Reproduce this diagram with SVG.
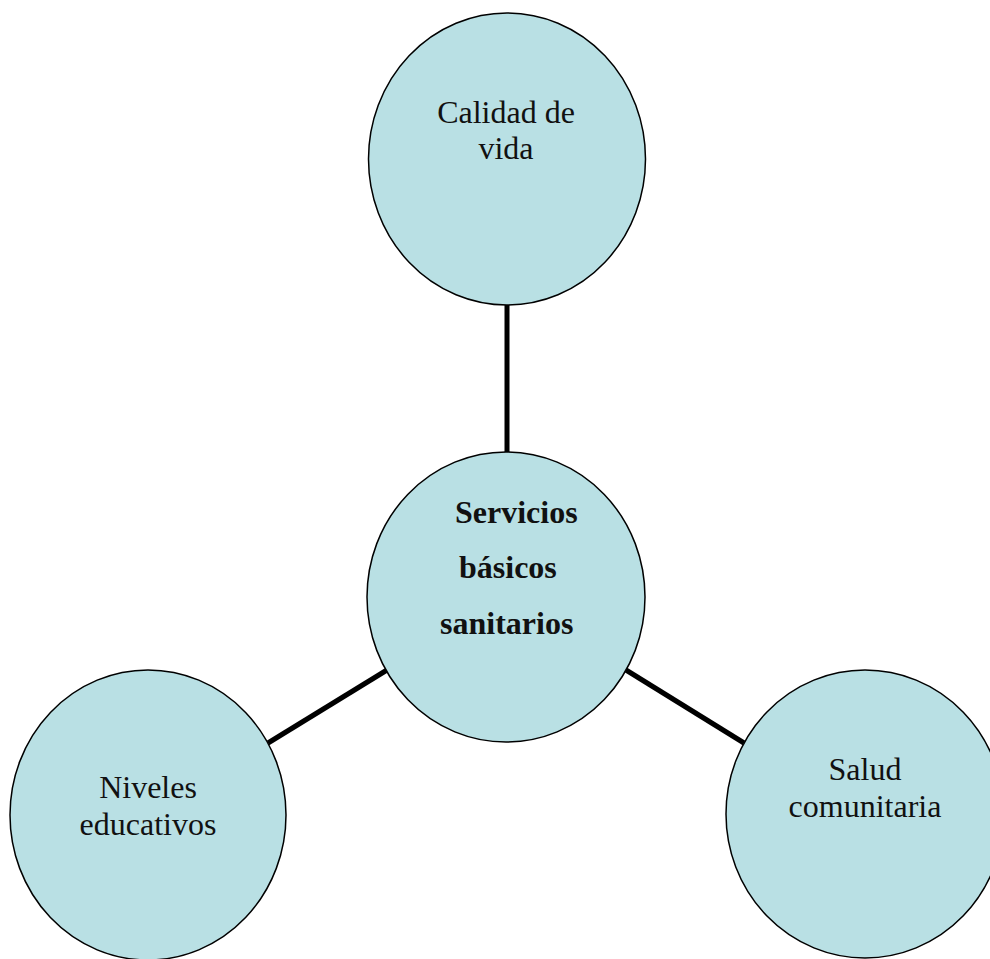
<svg xmlns="http://www.w3.org/2000/svg" width="990" height="959" viewBox="0 0 990 959">
<style>
.node{fill:#B9E0E4;stroke:#000;stroke-width:1.5}
.lbl{font-family:"Liberation Serif","Times New Roman",serif;font-size:32px;fill:#111}
.c{text-anchor:middle}
.b{font-weight:bold}
.con{stroke:#000;stroke-width:5;fill:none}
</style>
<rect width="990" height="959" fill="#fff"/>
<g id="connectors">
<line class="con" x1="507" y1="305" x2="507" y2="453"/>
<line class="con" x1="268" y1="743" x2="387" y2="670"/>
<line class="con" x1="626" y1="670" x2="744" y2="743"/>
</g>
<g id="calidad">
<ellipse class="node" cx="507" cy="159" rx="138.5" ry="146"/>
<text class="lbl c" x="506" y="123">Calidad de</text>
<text class="lbl c" x="506" y="159">vida</text>
</g>
<g id="servicios">
<ellipse class="node" cx="506" cy="597" rx="139" ry="145"/>
<text class="lbl b" x="455" y="523">Servicios</text>
<text class="lbl b" x="459" y="578">básicos</text>
<text class="lbl b" x="440" y="634">sanitarios</text>
</g>
<g id="niveles">
<ellipse class="node" cx="148" cy="815" rx="138" ry="145"/>
<text class="lbl c" x="148" y="798">Niveles</text>
<text class="lbl c" x="148" y="835">educativos</text>
</g>
<g id="salud">
<ellipse class="node" cx="865" cy="814" rx="139" ry="144"/>
<text class="lbl c" x="865" y="780">Salud</text>
<text class="lbl c" x="865" y="817">comunitaria</text>
</g>
</svg>
